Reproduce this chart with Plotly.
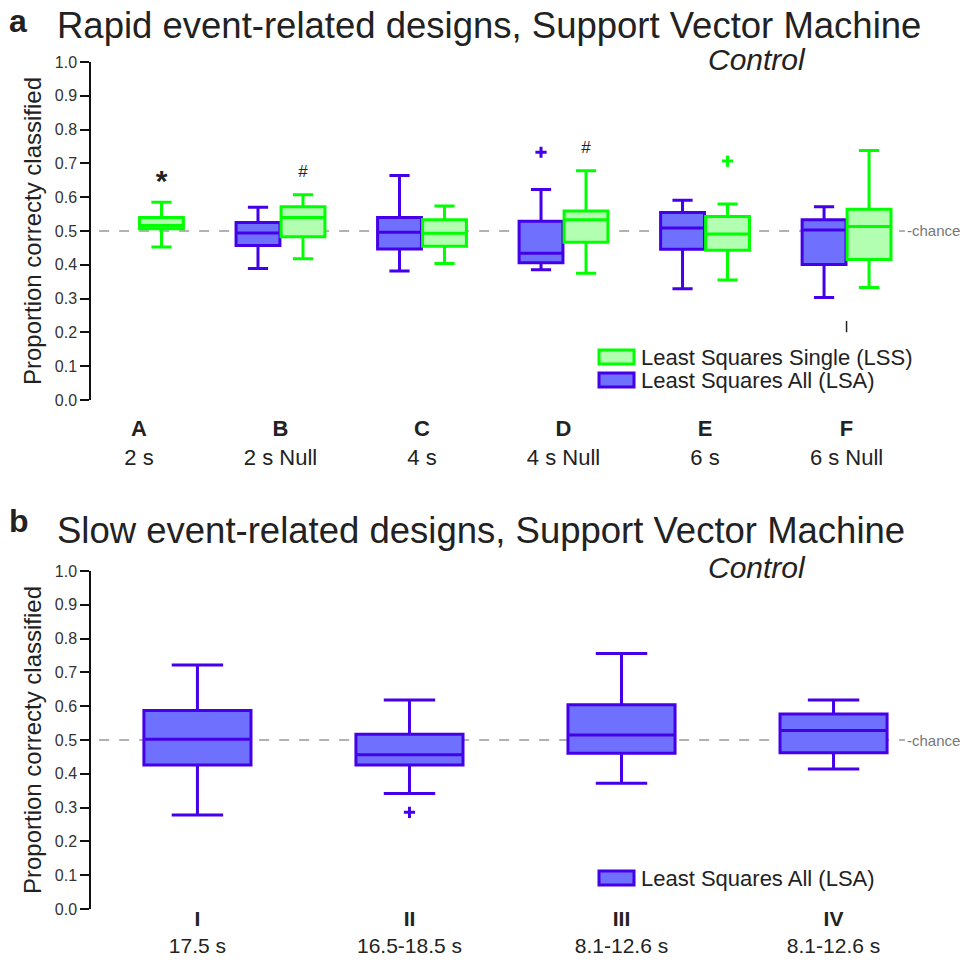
import plotly.graph_objects as go

W, H = 962, 961

# ---------------- Panel a data (rapid event-related designs) ----------------
cats_a = ["A", "B", "C", "D", "E", "F"]
durations_a = ["2 s", "2 s Null", "4 s", "4 s Null", "6 s", "6 s Null"]

lsa_a_lower = [None, 0.389, 0.382, 0.385, 0.329, 0.303]
lsa_a_q1 = [None, 0.457, 0.447, 0.406, 0.446, 0.401]
lsa_a_median = [None, 0.494, 0.496, 0.434, 0.509, 0.503]
lsa_a_q3 = [None, 0.525, 0.540, 0.529, 0.555, 0.533]
lsa_a_upper = [None, 0.570, 0.664, 0.623, 0.591, 0.572]

lss_a_lower = [0.453, 0.418, 0.404, 0.375, 0.355, 0.333]
lss_a_q1 = [0.507, 0.483, 0.455, 0.467, 0.443, 0.416]
lss_a_median = [0.516, 0.540, 0.493, 0.533, 0.491, 0.513]
lss_a_q3 = [0.540, 0.572, 0.533, 0.559, 0.543, 0.564]
lss_a_upper = [0.585, 0.607, 0.574, 0.678, 0.580, 0.738]

lsa_a_outlier_cats = ["D"]
lsa_a_outlier_vals = [0.733]
lss_a_outlier_cats = ["E"]
lss_a_outlier_vals = [0.707]
extra_mark_cats = ["F"]
extra_mark_vals = [0.217]

sig_cats = ["A", "B", "D"]
sig_text = ["<b>*</b>", "#", "#"]
sig_vals = [0.640, 0.672, 0.743]

# ---------------- Panel b data (slow event-related designs) ----------------
cats_b = ["I", "II", "III", "IV"]
durations_b = ["17.5 s", "16.5-18.5 s", "8.1-12.6 s", "8.1-12.6 s"]
lsa_b_lower = [0.278, 0.342, 0.372, 0.414]
lsa_b_q1 = [0.426, 0.426, 0.461, 0.462]
lsa_b_median = [0.502, 0.456, 0.515, 0.528]
lsa_b_q3 = [0.587, 0.517, 0.604, 0.577]
lsa_b_upper = [0.722, 0.618, 0.756, 0.618]
lsa_b_outlier_cats = ["II"]
lsa_b_outlier_vals = [0.286]

y_ticks = [round(0.1 * i, 1) for i in range(11)]
chance_level = 0.5

# ---------------- styles ----------------
LSA_LINE = "#4400E8"
LSA_FILL = "#7070FF"
LSS_LINE = "#00FF00"
LSS_FILL = "#B2FFB2"
TXT = "#222222"
FONT = "Liberation Sans, Arial, sans-serif"
NARROW = "Liberation Sans Narrow, Arial Narrow, Liberation Sans, sans-serif"

OFF_A = 0.159
BW_A = 0.31
BW_B = 0.505


def px_x(p):
    return p / W


def px_y(p):
    return 1 - p / H


fig = go.Figure()

# panel a boxes
idx_a = {c: i for i, c in enumerate(cats_a)}
sel = [i for i, v in enumerate(lsa_a_median) if v is not None]
fig.add_trace(go.Box(
    x=[i - OFF_A for i in sel],
    q1=[lsa_a_q1[i] for i in sel], median=[lsa_a_median[i] for i in sel],
    q3=[lsa_a_q3[i] for i in sel], lowerfence=[lsa_a_lower[i] for i in sel],
    upperfence=[lsa_a_upper[i] for i in sel],
    width=BW_A, whiskerwidth=0.46, boxpoints=False,
    fillcolor=LSA_FILL, line=dict(color=LSA_LINE, width=3),
    name="Least Squares All (LSA)", showlegend=False, xaxis="x", yaxis="y"))
fig.add_trace(go.Box(
    x=[i + OFF_A for i in range(len(cats_a))],
    q1=lss_a_q1, median=lss_a_median, q3=lss_a_q3,
    lowerfence=lss_a_lower, upperfence=lss_a_upper,
    width=BW_A, whiskerwidth=0.46, boxpoints=False,
    fillcolor=LSS_FILL, line=dict(color=LSS_LINE, width=3),
    name="Least Squares Single (LSS)", showlegend=False, xaxis="x", yaxis="y"))

fig.add_trace(go.Scatter(
    x=[idx_a[c] - OFF_A for c in lsa_a_outlier_cats], y=lsa_a_outlier_vals,
    mode="markers", marker=dict(symbol="cross-thin", size=8, line=dict(color=LSA_LINE, width=3)),
    showlegend=False, xaxis="x", yaxis="y"))
fig.add_trace(go.Scatter(
    x=[idx_a[c] + OFF_A for c in lss_a_outlier_cats], y=lss_a_outlier_vals,
    mode="markers", marker=dict(symbol="cross-thin", size=8, line=dict(color=LSS_LINE, width=3)),
    showlegend=False, xaxis="x", yaxis="y"))
fig.add_trace(go.Scatter(
    x=[idx_a[c] for c in extra_mark_cats], y=extra_mark_vals,
    mode="markers", marker=dict(symbol="line-ns", size=8, line=dict(color="#222", width=1.5)),
    showlegend=False, xaxis="x", yaxis="y"))
fig.add_trace(go.Scatter(
    x=[idx_a[c] + OFF_A for c in sig_cats], y=sig_vals, text=sig_text,
    mode="text", textfont=dict(family=FONT, size=[30, 17, 17], color=TXT),
    showlegend=False, xaxis="x", yaxis="y"))

# panel b boxes
idx_b = {c: i for i, c in enumerate(cats_b)}
fig.add_trace(go.Box(
    x=list(range(len(cats_b))),
    q1=lsa_b_q1, median=lsa_b_median, q3=lsa_b_q3,
    lowerfence=lsa_b_lower, upperfence=lsa_b_upper,
    width=BW_B, whiskerwidth=0.48, boxpoints=False,
    fillcolor=LSA_FILL, line=dict(color=LSA_LINE, width=3),
    name="Least Squares All (LSA)", showlegend=False, xaxis="x2", yaxis="y2"))
fig.add_trace(go.Scatter(
    x=[idx_b[c] for c in lsa_b_outlier_cats], y=lsa_b_outlier_vals,
    mode="markers", marker=dict(symbol="cross-thin", size=8, line=dict(color=LSA_LINE, width=3)),
    showlegend=False, xaxis="x2", yaxis="y2"))

# axes
x_dom = [px_x(91), px_x(905)]
yaxis_common = dict(
    range=[0, 1], tickvals=y_ticks, tickformat=".1f", ticks="outside", ticklen=9,
    tickwidth=1.5, tickcolor="#111", showline=True, linecolor="#111", linewidth=1.5,
    showgrid=False, zeroline=False, automargin=False,
    tickfont=dict(family=FONT, size=16, color="#333"),
    title=dict(text="Proportion correcty classified", font=dict(family=FONT, size=24, color=TXT), standoff=6),
)
fig.update_layout(
    width=W, height=H, margin=dict(l=0, r=0, t=0, b=0),
    paper_bgcolor="white", plot_bgcolor="white", showlegend=False,
    xaxis=dict(domain=x_dom, range=[-0.339, 5.413], tickvals=list(range(len(cats_a))),
               ticktext=[f"<b>{c}</b><br>{d}" for c, d in zip(cats_a, durations_a)],
               tickfont=dict(family=NARROW, size=22, color=TXT), ticks="", showline=False,
               showgrid=False, zeroline=False, automargin=False, anchor="y", ticklabelstandoff=13),
    yaxis=dict(domain=[px_y(400), px_y(62)], anchor="x", **yaxis_common),
    xaxis2=dict(domain=x_dom, range=[-0.502, 3.337], tickvals=list(range(len(cats_b))),
                ticktext=[f"<b>{c}</b><br>{d}" for c, d in zip(cats_b, durations_b)],
                tickfont=dict(family=FONT, size=21, color=TXT), ticks="", showline=False,
                showgrid=False, zeroline=False, automargin=False, anchor="y2", ticklabelstandoff=-5),
    yaxis2=dict(domain=[px_y(909), px_y(571)], anchor="x2", **yaxis_common),
)

# chance lines
for xr, yr in [("x", "y"), ("x2", "y2")]:
    fig.add_shape(type="line", xref=f"{xr} domain", yref=yr, x0=0.01, x1=1.0,
                  y0=chance_level, y1=chance_level,
                  line=dict(color="#999999", width=1.5, dash="10px,10px"), layer="below")
    fig.add_annotation(xref=f"{xr} domain", yref=yr, x=1.0, y=chance_level, text="-chance",
                       showarrow=False, xanchor="left", yanchor="middle",
                       font=dict(family=NARROW, size=15, color="#777"))

# titles
titles = [
    ("a", 7, 21, 32, "<b>a</b>"),
    ("t", 55, 26, 36.5, "Rapid event-related designs, Support Vector Machine"),
    ("c", 706, 60, 30, "<i>Control</i>"),
    ("b", 7, 521, 32, "<b>b</b>"),
    ("t", 55, 530, 36.5, "Slow event-related designs, Support Vector Machine"),
    ("c", 706, 567, 30, "<i>Control</i>"),
]
for _, xp, yp, sz, txt in titles:
    fig.add_annotation(xref="paper", yref="paper", x=px_x(xp), y=px_y(yp), text=txt,
                       showarrow=False, xanchor="left", yanchor="middle",
                       font=dict(family=FONT, size=sz, color=TXT))

# custom legends
legend_items = [
    (357, LSS_FILL, LSS_LINE, "Least Squares Single (LSS)"),
    (380, LSA_FILL, LSA_LINE, "Least Squares All (LSA)"),
    (878, LSA_FILL, LSA_LINE, "Least Squares All (LSA)"),
]
for yc, fc, lc, label in legend_items:
    fig.add_shape(type="rect", xref="paper", yref="paper",
                  x0=px_x(599), x1=px_x(634), y0=px_y(yc + 7), y1=px_y(yc - 7),
                  fillcolor=fc, line=dict(color=lc, width=3))
    fig.add_annotation(xref="paper", yref="paper", x=px_x(639), y=px_y(yc), text=label,
                       showarrow=False, xanchor="left", yanchor="middle",
                       font=dict(family=FONT, size=22, color=TXT))

fig.write_html("out.html")
